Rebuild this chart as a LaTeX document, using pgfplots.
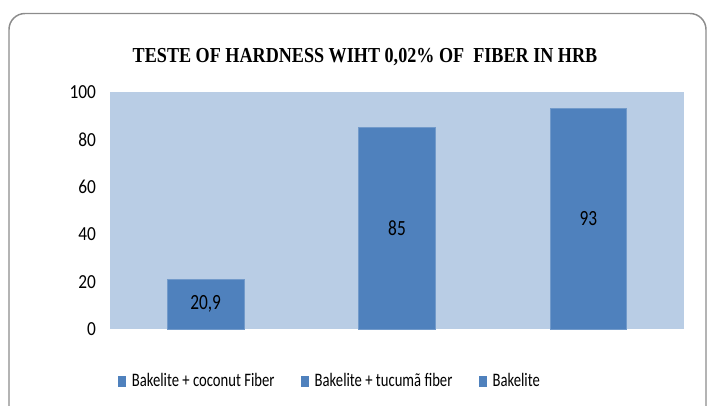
\documentclass[border=0pt]{standalone}
\usepackage{pgfplots}
\pgfplotsset{compat=1.18}
\usepackage{fontspec}
\setmainfont{Carlito}
\newfontfamily\titlefont{Liberation Serif}
\definecolor{barblue}{HTML}{4F81BD}
\definecolor{bgblue}{HTML}{B9CDE5}
\definecolor{framegray}{HTML}{8C8C8C}
\begin{document}
\begin{tikzpicture}[x=0.75pt,y=0.75pt]
\useasboundingbox (0,0) rectangle (708,405);
\begin{scope}
\clip (0,0) rectangle (708,405);
\draw[framegray, line width=1.1pt, rounded corners=12pt] (9,-30) -- (9,391.5) -- (706,391.5) -- (706,-30);
\end{scope}
\node[anchor=base, inner sep=0pt, font=\titlefont\bfseries\fontsize{16}{18}\selectfont] at (365,343) {\scalebox{0.85}[1]{TESTE OF HARDNESS WIHT 0,02\% OF \ FIBER IN HRB}};
\begin{axis}[
  at={(82.5pt,57pt)}, anchor=south west,
  scale only axis, width=430.5pt, height=177.75pt,
  xmin=-0.5, xmax=2.5, ymin=0, ymax=100,
  ytick={0,20,...,100}, xtick=\empty,
  /pgf/number format/assume math mode=true,
  axis line style={draw=none}, tick style={draw=none},
  axis background/.style={fill=bgblue},
  ybar, bar width=0.4, bar shift=0pt,
  yticklabel style={font=\fontsize{13}{13}\selectfont, xshift=-7pt},
  yticklabel={\scalebox{1}[1.15]{\pgfmathprintnumber{\tick}}},
  nodes near coords={\scalebox{1}[1.25]{\pgfmathprintnumber[use comma,assume math mode=true]{\pgfplotspointmeta}}},
  visualization depends on={y \as \rawy},
  every node near coord/.append style={shift={(axis direction cs:0,-\rawy/2)}, anchor=center, font=\fontsize{13}{13}\selectfont, text=black},
  legend columns=3,
  legend cell align=left,
  legend style={draw=none, fill=none, at={(0.014,-0.219)}, anchor=west, inner sep=0pt,
    font=\fontsize{11}{11}\selectfont,
    /tikz/every odd column/.append style={column sep=2.5pt},
    /tikz/every even column/.append style={column sep=18pt}},
  legend image code/.code={\fill[barblue] (0pt,-3.75pt) rectangle (5.25pt,3.75pt);},
]
\addplot[fill=barblue, draw=barblue!80!white] coordinates {(0,20.9)};
\addlegendentry{\scalebox{1}[1.3]{Bakelite + coconut Fiber}}
\addplot[fill=barblue, draw=barblue!80!white] coordinates {(1,85)};
\addlegendentry{\scalebox{1}[1.3]{Bakelite + tucumã fiber}}
\addplot[fill=barblue, draw=barblue!80!white] coordinates {(2,93)};
\addlegendentry{\scalebox{1}[1.3]{Bakelite}}
\end{axis}
\end{tikzpicture}
\end{document}
